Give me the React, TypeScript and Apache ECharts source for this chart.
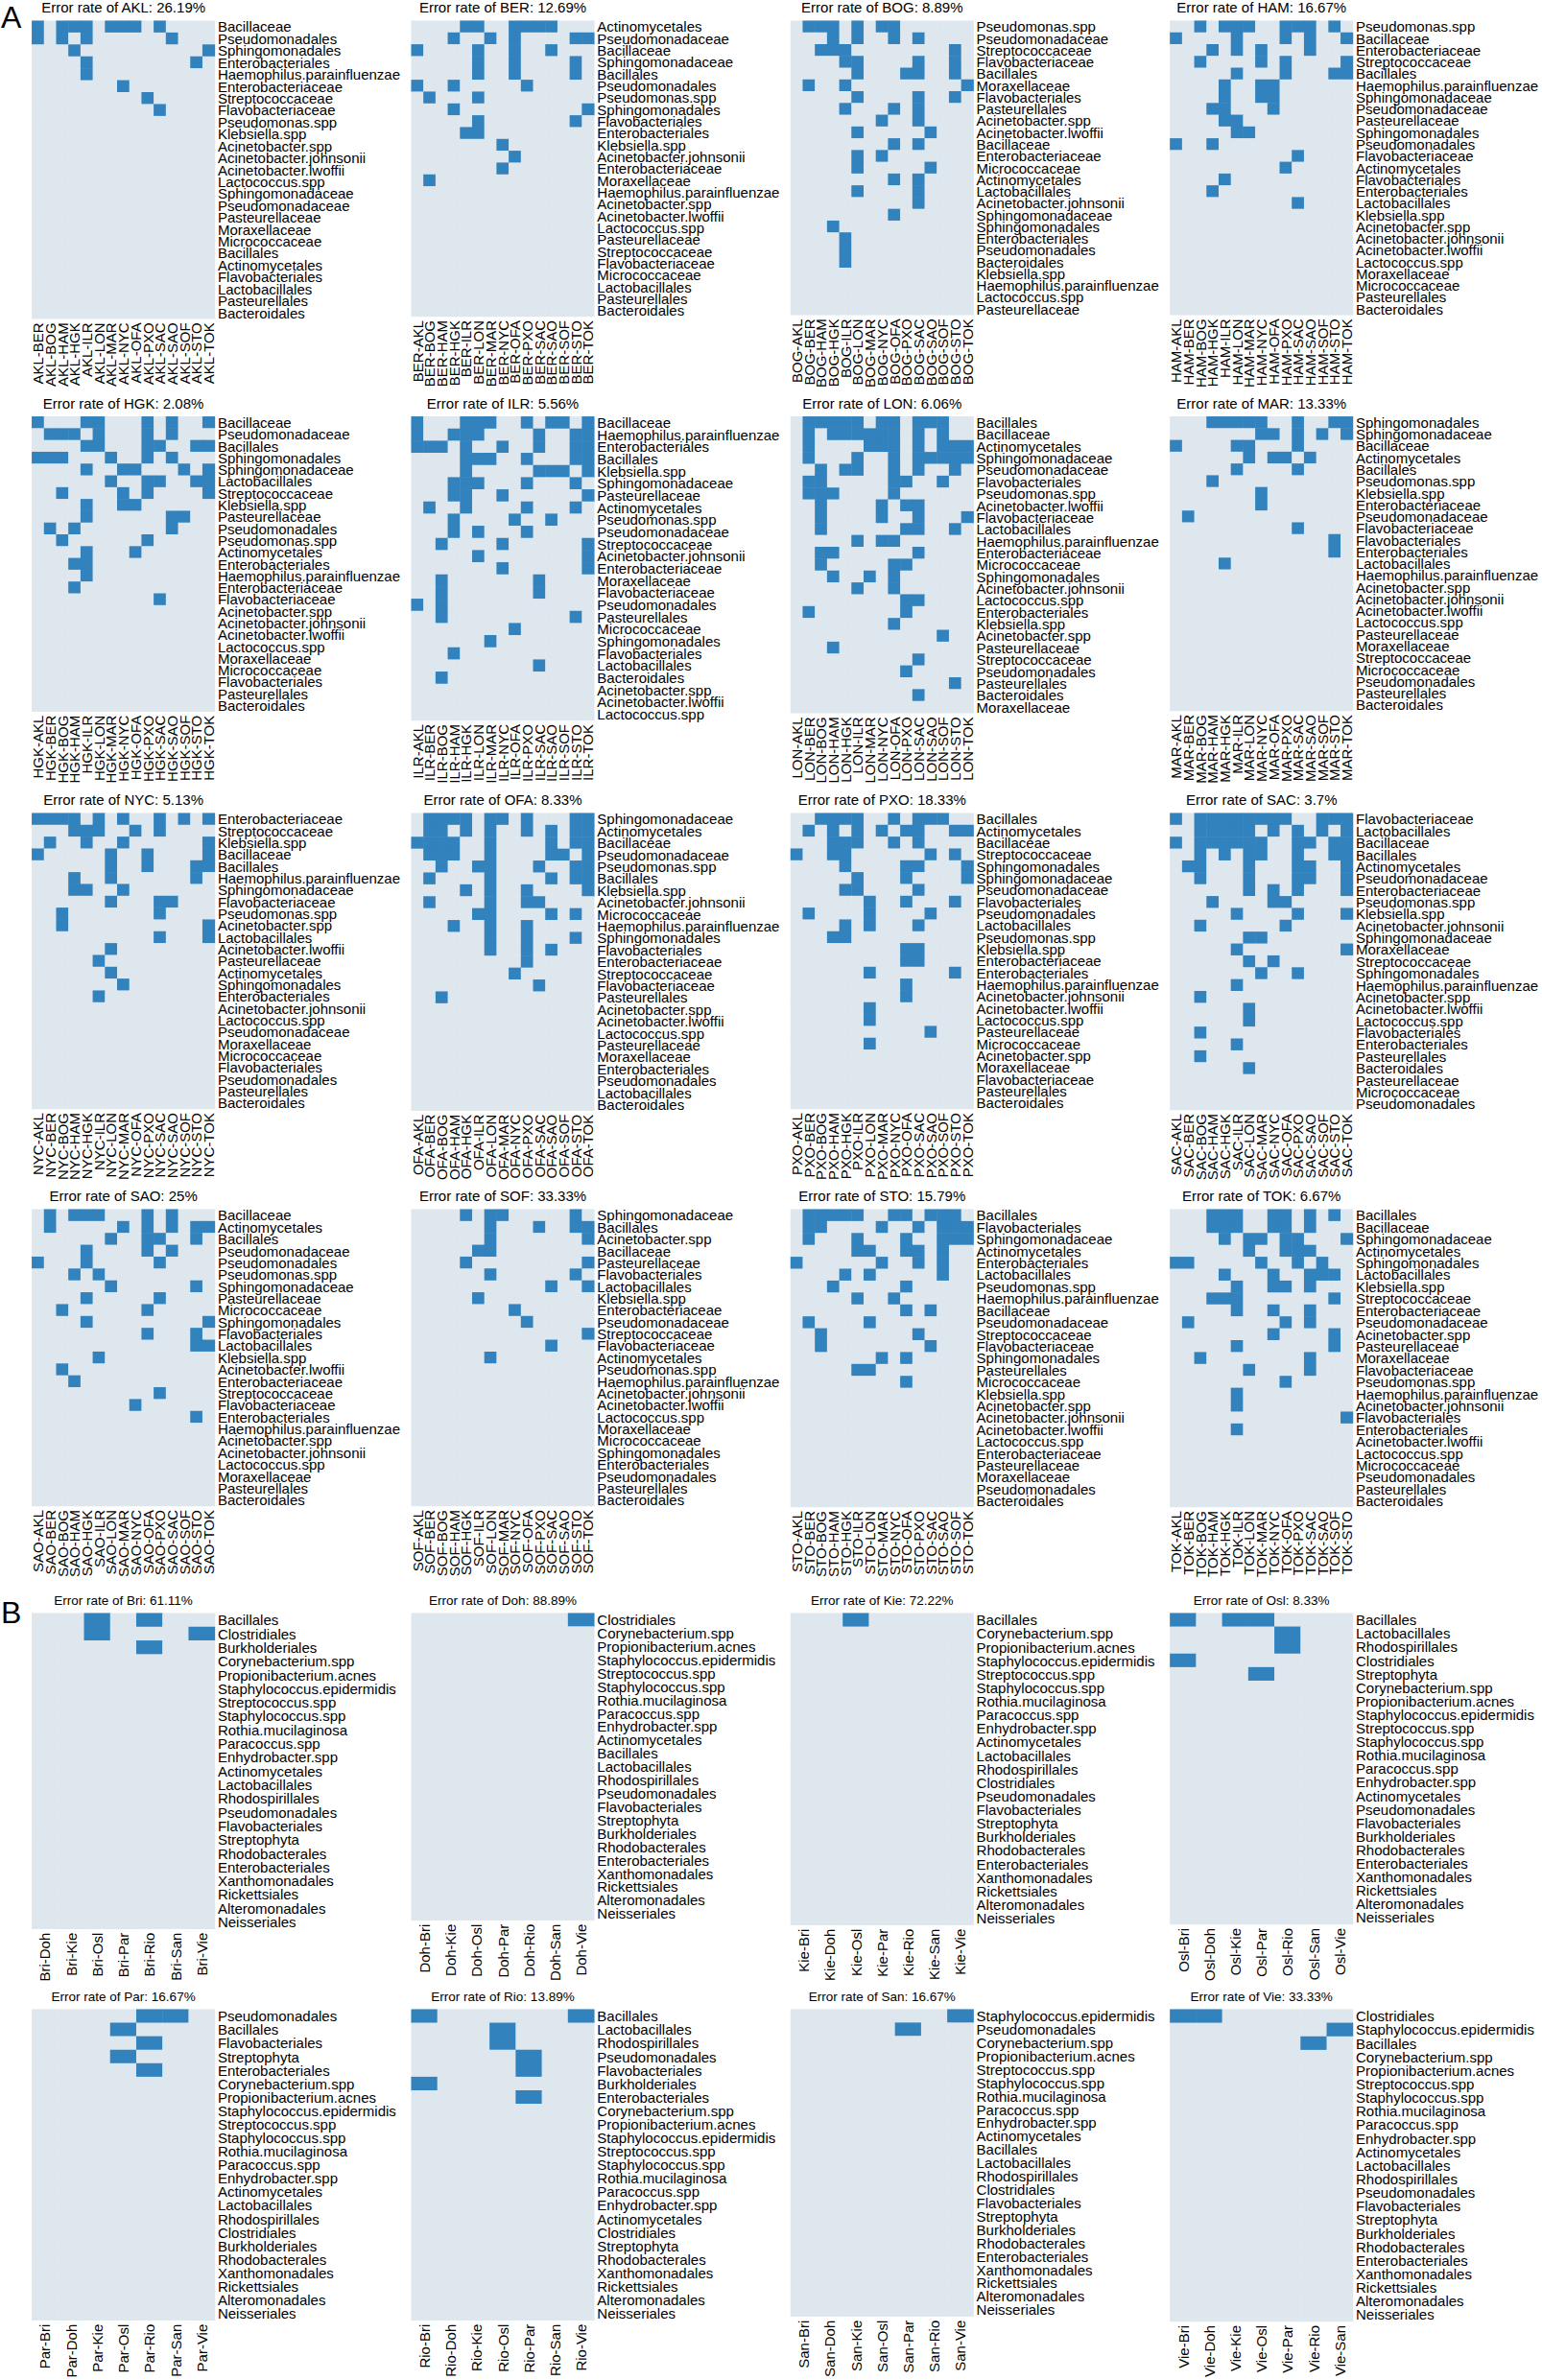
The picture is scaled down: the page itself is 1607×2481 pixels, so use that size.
import React, { useEffect, useRef } from "react";
import * as echarts from "echarts";

// ---------------- data ----------------
const citiesA = ["AKL", "BER", "BOG", "HAM", "HGK", "ILR", "LON", "MAR", "NYC", "OFA", "PXO", "SAC", "SAO", "SOF", "STO", "TOK"];
const ratesA = ["26.19%", "12.69%", "8.89%", "16.67%", "2.08%", "5.56%", "6.06%", "13.33%", "5.13%", "8.33%", "18.33%", "3.7%", "25%", "33.33%", "15.79%", "6.67%"];
const citiesB = ["Bri", "Doh", "Kie", "Osl", "Par", "Rio", "San", "Vie"];
const ratesB = ["61.11%", "88.89%", "72.22%", "8.33%", "16.67%", "13.89%", "16.67%", "33.33%"];

const rowsAKL = ["Bacillaceae", "Pseudomonadales", "Sphingomonadales", "Enterobacteriales", "Haemophilus.parainfluenzae", "Enterobacteriaceae", "Streptococcaceae", "Flavobacteriaceae", "Pseudomonas.spp", "Klebsiella.spp", "Acinetobacter.spp", "Acinetobacter.johnsonii", "Acinetobacter.lwoffii", "Lactococcus.spp", "Sphingomonadaceae", "Pseudomonadaceae", "Pasteurellaceae", "Moraxellaceae", "Micrococcaceae", "Bacillales", "Actinomycetales", "Flavobacteriales", "Lactobacillales", "Pasteurellales", "Bacteroidales"];
const hitsAKL = [[0, 2, 3, 4, 6, 7, 8, 10], [0, 2, 4, 11], [3, 14], [4, 13], [4], [7], [9], [10]];

const rowsBER = ["Actinomycetales", "Pseudomonadaceae", "Bacillaceae", "Sphingomonadaceae", "Bacillales", "Pseudomonadales", "Pseudomonas.spp", "Sphingomonadales", "Flavobacteriales", "Enterobacteriales", "Klebsiella.spp", "Acinetobacter.johnsonii", "Enterobacteriaceae", "Moraxellaceae", "Haemophilus.parainfluenzae", "Acinetobacter.spp", "Acinetobacter.lwoffii", "Lactococcus.spp", "Pasteurellaceae", "Streptococcaceae", "Flavobacteriaceae", "Micrococcaceae", "Lactobacillales", "Pasteurellales", "Bacteroidales"];
const hitsBER = [[4, 5, 8, 9, 10, 11], [3, 6, 8, 13, 14], [0, 5, 8, 11], [5, 8, 13], [5, 8, 13], [0, 3, 9], [1, 5], [3, 14], [5, 13], [4, 5], [7], [8], [7], [1]];

const rowsBOG = ["Pseudomonas.spp", "Pseudomonadaceae", "Streptococcaceae", "Flavobacteriaceae", "Bacillales", "Moraxellaceae", "Flavobacteriales", "Pasteurellales", "Acinetobacter.spp", "Acinetobacter.lwoffii", "Bacillaceae", "Enterobacteriaceae", "Micrococcaceae", "Actinomycetales", "Lactobacillales", "Acinetobacter.johnsonii", "Sphingomonadaceae", "Sphingomonadales", "Enterobacteriales", "Pseudomonadales", "Bacteroidales", "Klebsiella.spp", "Haemophilus.parainfluenzae", "Lactococcus.spp", "Pasteurellaceae"];
const hitsBOG = [[1, 2, 3, 5, 7, 8], [3, 5, 8, 10], [2, 3, 4, 13], [4, 5, 10, 13], [5, 9, 10, 13], [1, 4, 14], [5, 10, 13], [4, 8, 10], [7, 10], [5, 11], [8, 10], [5, 7], [5, 11], [8, 10], [5, 10], [10], [8], [3], [4], [4], [4]];

const rowsHAM = ["Pseudomonas.spp", "Bacillaceae", "Enterobacteriaceae", "Streptococcaceae", "Bacillales", "Haemophilus.parainfluenzae", "Sphingomonadaceae", "Pseudomonadaceae", "Pasteurellaceae", "Sphingomonadales", "Pseudomonadales", "Flavobacteriaceae", "Actinomycetales", "Flavobacteriales", "Enterobacteriales", "Lactobacillales", "Klebsiella.spp", "Acinetobacter.spp", "Acinetobacter.johnsonii", "Acinetobacter.lwoffii", "Lactococcus.spp", "Moraxellaceae", "Micrococcaceae", "Pasteurellales", "Bacteroidales"];
const hitsHAM = [[2, 4, 5, 6, 9, 10, 11, 13], [0, 5, 9, 11, 14], [3, 5, 7, 11], [2, 7, 9, 14], [5, 9, 13, 14], [4, 7, 8], [4, 7, 8], [3, 4, 8], [4, 5], [5, 6], [0, 3], [10], [9], [4], [3], [10]];

const rowsHGK = ["Bacillaceae", "Pseudomonadaceae", "Bacillales", "Sphingomonadales", "Sphingomonadaceae", "Lactobacillales", "Streptococcaceae", "Klebsiella.spp", "Pasteurellaceae", "Pseudomonadales", "Pseudomonas.spp", "Actinomycetales", "Enterobacteriales", "Haemophilus.parainfluenzae", "Enterobacteriaceae", "Flavobacteriaceae", "Acinetobacter.spp", "Acinetobacter.johnsonii", "Acinetobacter.lwoffii", "Lactococcus.spp", "Moraxellaceae", "Micrococcaceae", "Flavobacteriales", "Pasteurellales", "Bacteroidales"];
const hitsHGK = [[0, 4, 5, 9, 11, 14], [1, 2, 3, 5, 9, 11], [4, 5, 9, 10, 13, 14], [0, 1, 2, 6, 9, 11], [4, 7, 8, 12, 14], [6, 9, 10, 13, 14], [2, 7, 9, 14], [4, 7, 8], [4, 11, 12], [1, 3, 11], [2, 9], [4, 8], [3, 4], [4], [3], [10]];

const rowsILR = ["Bacillaceae", "Haemophilus.parainfluenzae", "Enterobacteriales", "Bacillales", "Klebsiella.spp", "Sphingomonadaceae", "Pasteurellaceae", "Actinomycetales", "Pseudomonas.spp", "Pseudomonadaceae", "Streptococcaceae", "Acinetobacter.johnsonii", "Enterobacteriaceae", "Moraxellaceae", "Flavobacteriaceae", "Pseudomonadales", "Pasteurellales", "Micrococcaceae", "Sphingomonadales", "Flavobacteriales", "Lactobacillales", "Bacteroidales", "Acinetobacter.spp", "Acinetobacter.lwoffii", "Lactococcus.spp"];
const hitsILR = [[0, 4, 5, 6, 9, 11, 12, 14], [0, 3, 4, 5, 10, 13, 14], [0, 1, 2, 4, 7, 10, 13, 14], [4, 5, 6, 9, 13, 14], [4, 10, 11, 12, 14], [3, 4, 5, 9, 13], [3, 4, 7, 14], [1, 4, 9, 13], [3, 8, 11], [3, 5, 9], [2, 7, 14], [5, 14], [7, 14], [2, 10], [2, 10], [0, 2], [2, 13], [8], [6], [3], [10], [2]];

const rowsLON = ["Bacillales", "Bacillaceae", "Actinomycetales", "Sphingomonadaceae", "Pseudomonadaceae", "Flavobacteriales", "Pseudomonas.spp", "Acinetobacter.lwoffii", "Flavobacteriaceae", "Lactobacillales", "Haemophilus.parainfluenzae", "Enterobacteriaceae", "Micrococcaceae", "Sphingomonadales", "Acinetobacter.johnsonii", "Lactococcus.spp", "Enterobacteriales", "Klebsiella.spp", "Acinetobacter.spp", "Pasteurellaceae", "Streptococcaceae", "Pseudomonadales", "Pasteurellales", "Bacteroidales", "Moraxellaceae"];
const hitsLON = [[1, 2, 3, 4, 5, 7, 8, 10, 11, 12], [1, 3, 4, 5, 6, 7, 8, 10, 12], [1, 6, 7, 8, 10, 12, 13, 14], [1, 5, 8, 10, 11, 12, 13, 14], [2, 4, 5, 8, 10, 13], [1, 2, 8, 9, 12], [1, 2, 3, 8], [2, 7, 9, 10], [2, 7, 10, 14], [2, 9, 10, 13], [5, 7, 8], [2, 3, 10], [2, 8, 9], [3, 6, 8], [5, 8], [9, 10], [1, 9], [8], [12], [3], [10], [9], [13], [10]];

const rowsMAR = ["Sphingomonadales", "Sphingomonadaceae", "Bacillaceae", "Actinomycetales", "Bacillales", "Pseudomonas.spp", "Klebsiella.spp", "Enterobacteriaceae", "Pseudomonadaceae", "Flavobacteriaceae", "Flavobacteriales", "Enterobacteriales", "Lactobacillales", "Haemophilus.parainfluenzae", "Acinetobacter.spp", "Acinetobacter.johnsonii", "Acinetobacter.lwoffii", "Lactococcus.spp", "Pasteurellaceae", "Moraxellaceae", "Streptococcaceae", "Micrococcaceae", "Pseudomonadales", "Pasteurellales", "Bacteroidales"];
const hitsMAR = [[3, 4, 5, 6, 7, 10, 13, 14], [7, 8, 10, 12, 14], [0, 5, 6, 10], [6, 8, 9, 11], [5, 10], [3], [7], [7], [1], [10], [13], [13], [4]];

const rowsNYC = ["Enterobacteriaceae", "Streptococcaceae", "Klebsiella.spp", "Bacillaceae", "Bacillales", "Haemophilus.parainfluenzae", "Sphingomonadaceae", "Flavobacteriaceae", "Pseudomonas.spp", "Acinetobacter.spp", "Lactobacillales", "Acinetobacter.lwoffii", "Pasteurellaceae", "Actinomycetales", "Sphingomonadales", "Enterobacteriales", "Acinetobacter.johnsonii", "Lactococcus.spp", "Pseudomonadaceae", "Moraxellaceae", "Micrococcaceae", "Flavobacteriales", "Pseudomonadales", "Pasteurellales", "Bacteroidales"];
const hitsNYC = [[0, 1, 2, 3, 5, 7, 10, 12, 14], [3, 4, 5, 8, 10], [1, 4, 7, 14], [0, 6, 9, 14], [6, 9, 13, 14], [3, 6, 13], [3, 4, 7], [6, 10, 11], [2, 10], [2, 14], [10, 14], [6], [5], [6], [7], [5]];

const rowsOFA = ["Sphingomonadaceae", "Actinomycetales", "Bacillaceae", "Pseudomonadaceae", "Pseudomonas.spp", "Bacillales", "Klebsiella.spp", "Acinetobacter.johnsonii", "Micrococcaceae", "Haemophilus.parainfluenzae", "Sphingomonadales", "Flavobacteriales", "Enterobacteriaceae", "Streptococcaceae", "Flavobacteriaceae", "Pasteurellales", "Acinetobacter.spp", "Acinetobacter.lwoffii", "Lactococcus.spp", "Pasteurellaceae", "Moraxellaceae", "Enterobacteriales", "Pseudomonadales", "Lactobacillales", "Bacteroidales"];
const hitsOFA = [[1, 2, 3, 4, 6, 7, 9, 13, 14], [1, 2, 4, 6, 9, 11, 13, 14], [0, 1, 2, 3, 6, 11, 13, 14], [1, 2, 3, 6, 11, 12, 14], [2, 5, 6, 10, 13, 14], [1, 6, 11, 13, 14], [4, 6, 9, 14], [1, 6, 9, 10], [5, 6, 11, 13], [3, 6, 9], [6, 9, 13], [6, 9, 11], [9], [8], [10], [2]];

const rowsPXO = ["Bacillales", "Actinomycetales", "Bacillaceae", "Streptococcaceae", "Sphingomonadales", "Sphingomonadaceae", "Pseudomonadaceae", "Flavobacteriales", "Pseudomonadales", "Lactobacillales", "Pseudomonas.spp", "Klebsiella.spp", "Enterobacteriaceae", "Enterobacteriales", "Haemophilus.parainfluenzae", "Acinetobacter.johnsonii", "Acinetobacter.lwoffii", "Lactococcus.spp", "Pasteurellaceae", "Micrococcaceae", "Acinetobacter.spp", "Moraxellaceae", "Flavobacteriaceae", "Pasteurellales", "Bacteroidales"];
const hitsPXO = [[2, 3, 4, 5, 8, 10, 11, 12], [1, 3, 5, 7, 9, 10, 13, 14], [3, 4, 5, 8, 10], [0, 3, 4, 11, 13], [4, 9, 10, 14], [5, 9, 14], [4, 5, 10], [6, 9, 13], [1, 6, 11], [4, 6, 10], [3, 4], [9, 10], [9, 10], [6, 13], [9], [9], [6], [6], [11], [6]];

const rowsSAC = ["Flavobacteriaceae", "Lactobacillales", "Bacillaceae", "Bacillales", "Actinomycetales", "Pseudomonadaceae", "Enterobacteriaceae", "Pseudomonas.spp", "Klebsiella.spp", "Acinetobacter.johnsonii", "Sphingomonadaceae", "Moraxellaceae", "Streptococcaceae", "Sphingomonadales", "Haemophilus.parainfluenzae", "Acinetobacter.spp", "Acinetobacter.lwoffii", "Lactococcus.spp", "Flavobacteriales", "Enterobacteriales", "Pasteurellales", "Bacteroidales", "Pasteurellaceae", "Micrococcaceae", "Pseudomonadales"];
const hitsSAC = [[0, 2, 3, 4, 5, 6, 7, 8, 9, 12, 13, 14], [2, 3, 4, 5, 6, 8, 10, 12, 14], [0, 2, 3, 4, 5, 6, 7, 10, 11, 13, 14], [2, 4, 6, 7, 10, 13, 14], [1, 2, 6, 10, 11, 14], [2, 6, 10, 11, 14], [6, 8, 10, 14], [3, 8, 9], [5, 10, 14], [2, 9], [6, 7], [5, 14], [6, 8], [7, 10], [5], [2], [6], [6], [2], [5], [2], [6]];

const rowsSAO = ["Bacillaceae", "Actinomycetales", "Bacillales", "Pseudomonadaceae", "Pseudomonadales", "Pseudomonas.spp", "Sphingomonadaceae", "Pasteurellaceae", "Micrococcaceae", "Sphingomonadales", "Flavobacteriales", "Lactobacillales", "Klebsiella.spp", "Acinetobacter.lwoffii", "Enterobacteriaceae", "Streptococcaceae", "Flavobacteriaceae", "Enterobacteriales", "Haemophilus.parainfluenzae", "Acinetobacter.spp", "Acinetobacter.johnsonii", "Lactococcus.spp", "Moraxellaceae", "Pasteurellales", "Bacteroidales"];
const hitsSAO = [[1, 3, 4, 5, 9, 11], [1, 7, 9, 11, 13, 14], [6, 9, 10, 13], [4, 9, 11], [0, 4, 10], [3, 5], [6, 13], [4, 10], [2, 9], [4, 14], [9, 13], [13, 14], [5], [2], [3], [10], [8], [13]];

const rowsSOF = ["Sphingomonadaceae", "Bacillales", "Acinetobacter.spp", "Bacillaceae", "Pasteurellaceae", "Flavobacteriales", "Lactobacillales", "Klebsiella.spp", "Enterobacteriaceae", "Pseudomonadaceae", "Streptococcaceae", "Flavobacteriaceae", "Actinomycetales", "Pseudomonas.spp", "Haemophilus.parainfluenzae", "Acinetobacter.johnsonii", "Acinetobacter.lwoffii", "Lactococcus.spp", "Moraxellaceae", "Micrococcaceae", "Sphingomonadales", "Enterobacteriales", "Pseudomonadales", "Pasteurellales", "Bacteroidales"];
const hitsSOF = [[4, 6, 7, 13], [6, 10, 13, 14], [6, 14], [5, 6], [4, 14], [6, 13], [11, 14], [5], [8], [9], [14], [11], [6]];

const rowsSTO = ["Bacillales", "Flavobacteriales", "Sphingomonadaceae", "Actinomycetales", "Enterobacteriales", "Lactobacillales", "Pseudomonas.spp", "Haemophilus.parainfluenzae", "Bacillaceae", "Pseudomonadaceae", "Streptococcaceae", "Flavobacteriaceae", "Sphingomonadales", "Pasteurellales", "Micrococcaceae", "Klebsiella.spp", "Acinetobacter.spp", "Acinetobacter.johnsonii", "Acinetobacter.lwoffii", "Lactococcus.spp", "Enterobacteriaceae", "Pasteurellaceae", "Moraxellaceae", "Pseudomonadales", "Bacteroidales"];
const hitsSTO = [[1, 2, 3, 4, 5, 8, 9, 11, 12, 13], [1, 2, 7, 10, 12, 13, 14], [1, 5, 9, 12, 13, 14], [5, 6, 9, 10, 12], [0, 7, 10, 12], [4, 6, 12], [3, 9], [5, 8], [9, 11], [1, 6], [2, 10], [2, 11], [7, 9], [5, 6], [9]];

const rowsTOK = ["Bacillales", "Bacillaceae", "Sphingomonadaceae", "Actinomycetales", "Sphingomonadales", "Lactobacillales", "Klebsiella.spp", "Streptococcaceae", "Enterobacteriaceae", "Pseudomonadaceae", "Acinetobacter.spp", "Pasteurellaceae", "Moraxellaceae", "Flavobacteriaceae", "Pseudomonas.spp", "Haemophilus.parainfluenzae", "Acinetobacter.johnsonii", "Flavobacteriales", "Enterobacteriales", "Acinetobacter.lwoffii", "Lactococcus.spp", "Micrococcaceae", "Pseudomonadales", "Pasteurellales", "Bacteroidales"];
const hitsTOK = [[3, 4, 5, 8, 9, 11, 13], [3, 4, 5, 8, 9, 11], [4, 6, 7, 9, 10, 14], [6, 9, 10, 11], [0, 1, 7, 10, 12], [4, 8, 11, 12, 13], [5, 8, 9, 11], [3, 4, 5, 13], [5, 8, 11], [1, 9, 11], [8, 13], [5, 13], [2, 11], [6, 11], [9], [5], [5], [14], [5]];

const rowsBri = ["Bacillales", "Clostridiales", "Burkholderiales", "Corynebacterium.spp", "Propionibacterium.acnes", "Staphylococcus.epidermidis", "Streptococcus.spp", "Staphylococcus.spp", "Rothia.mucilaginosa", "Paracoccus.spp", "Enhydrobacter.spp", "Actinomycetales", "Lactobacillales", "Rhodospirillales", "Pseudomonadales", "Flavobacteriales", "Streptophyta", "Rhodobacterales", "Enterobacteriales", "Xanthomonadales", "Rickettsiales", "Alteromonadales", "Neisseriales"];
const hitsBri = [[2, 4], [2, 6], [4]];

const rowsDoh = ["Clostridiales", "Corynebacterium.spp", "Propionibacterium.acnes", "Staphylococcus.epidermidis", "Streptococcus.spp", "Staphylococcus.spp", "Rothia.mucilaginosa", "Paracoccus.spp", "Enhydrobacter.spp", "Actinomycetales", "Bacillales", "Lactobacillales", "Rhodospirillales", "Pseudomonadales", "Flavobacteriales", "Streptophyta", "Burkholderiales", "Rhodobacterales", "Enterobacteriales", "Xanthomonadales", "Rickettsiales", "Alteromonadales", "Neisseriales"];
const hitsDoh = [[6]];

const rowsKie = ["Bacillales", "Corynebacterium.spp", "Propionibacterium.acnes", "Staphylococcus.epidermidis", "Streptococcus.spp", "Staphylococcus.spp", "Rothia.mucilaginosa", "Paracoccus.spp", "Enhydrobacter.spp", "Actinomycetales", "Lactobacillales", "Rhodospirillales", "Clostridiales", "Pseudomonadales", "Flavobacteriales", "Streptophyta", "Burkholderiales", "Rhodobacterales", "Enterobacteriales", "Xanthomonadales", "Rickettsiales", "Alteromonadales", "Neisseriales"];
const hitsKie = [[2]];

const rowsOsl = ["Bacillales", "Lactobacillales", "Rhodospirillales", "Clostridiales", "Streptophyta", "Corynebacterium.spp", "Propionibacterium.acnes", "Staphylococcus.epidermidis", "Streptococcus.spp", "Staphylococcus.spp", "Rothia.mucilaginosa", "Paracoccus.spp", "Enhydrobacter.spp", "Actinomycetales", "Pseudomonadales", "Flavobacteriales", "Burkholderiales", "Rhodobacterales", "Enterobacteriales", "Xanthomonadales", "Rickettsiales", "Alteromonadales", "Neisseriales"];
const hitsOsl = [[0, 2, 3], [4], [4], [0], [3]];

const rowsPar = ["Pseudomonadales", "Bacillales", "Flavobacteriales", "Streptophyta", "Enterobacteriales", "Corynebacterium.spp", "Propionibacterium.acnes", "Staphylococcus.epidermidis", "Streptococcus.spp", "Staphylococcus.spp", "Rothia.mucilaginosa", "Paracoccus.spp", "Enhydrobacter.spp", "Actinomycetales", "Lactobacillales", "Rhodospirillales", "Clostridiales", "Burkholderiales", "Rhodobacterales", "Xanthomonadales", "Rickettsiales", "Alteromonadales", "Neisseriales"];
const hitsPar = [[4, 5], [3], [4], [3], [4]];

const rowsRio = ["Bacillales", "Lactobacillales", "Rhodospirillales", "Pseudomonadales", "Flavobacteriales", "Burkholderiales", "Enterobacteriales", "Corynebacterium.spp", "Propionibacterium.acnes", "Staphylococcus.epidermidis", "Streptococcus.spp", "Staphylococcus.spp", "Rothia.mucilaginosa", "Paracoccus.spp", "Enhydrobacter.spp", "Actinomycetales", "Clostridiales", "Streptophyta", "Rhodobacterales", "Xanthomonadales", "Rickettsiales", "Alteromonadales", "Neisseriales"];
const hitsRio = [[0, 6], [3], [3], [4], [4], [0], [4]];

const rowsSan = ["Staphylococcus.epidermidis", "Pseudomonadales", "Corynebacterium.spp", "Propionibacterium.acnes", "Streptococcus.spp", "Staphylococcus.spp", "Rothia.mucilaginosa", "Paracoccus.spp", "Enhydrobacter.spp", "Actinomycetales", "Bacillales", "Lactobacillales", "Rhodospirillales", "Clostridiales", "Flavobacteriales", "Streptophyta", "Burkholderiales", "Rhodobacterales", "Enterobacteriales", "Xanthomonadales", "Rickettsiales", "Alteromonadales", "Neisseriales"];
const hitsSan = [[6], [4]];

const rowsVie = ["Clostridiales", "Staphylococcus.epidermidis", "Bacillales", "Corynebacterium.spp", "Propionibacterium.acnes", "Streptococcus.spp", "Staphylococcus.spp", "Rothia.mucilaginosa", "Paracoccus.spp", "Enhydrobacter.spp", "Actinomycetales", "Lactobacillales", "Rhodospirillales", "Pseudomonadales", "Flavobacteriales", "Streptophyta", "Burkholderiales", "Rhodobacterales", "Enterobacteriales", "Xanthomonadales", "Rickettsiales", "Alteromonadales", "Neisseriales"];
const hitsVie = [[0, 1], [6], [5]];

const rowsA = [rowsAKL, rowsBER, rowsBOG, rowsHAM, rowsHGK, rowsILR, rowsLON, rowsMAR, rowsNYC, rowsOFA, rowsPXO, rowsSAC, rowsSAO, rowsSOF, rowsSTO, rowsTOK];
const hitsA = [hitsAKL, hitsBER, hitsBOG, hitsHAM, hitsHGK, hitsILR, hitsLON, hitsMAR, hitsNYC, hitsOFA, hitsPXO, hitsSAC, hitsSAO, hitsSOF, hitsSTO, hitsTOK];
const rowsB = [rowsBri, rowsDoh, rowsKie, rowsOsl, rowsPar, rowsRio, rowsSan, rowsVie];
const hitsB = [hitsBri, hitsDoh, hitsKie, hitsOsl, hitsPar, hitsRio, hitsSan, hitsVie];

// ---------------- layout ----------------
const FONT = "'Liberation Sans', Arial, Helvetica, sans-serif";
const LIGHT = "#dfe7ee";
const BLUE = "#3182bd";
const colLeft = [33.3, 428.7, 824.0, 1219.4];
const plotW = 190.6;
const topA = [21.7, 434.3, 847.7, 1260.7];
const titleYA = [8.3, 421, 834.3, 1247.3];
const bottomA = [[332.3, 330, 328.3, 328.3], [741.7, 751, 743.3, 741], [1156, 1157.7, 1156, 1157], [1570, 1570, 1571, 1571]];
const topB = [1681.7, 2094.7];
const titleYB = [1669.3, 2082];
const bottomB = [[2010.7, 2001.7, 2006.7, 2006], [2418.7, 2418.7, 2414.7, 2420]];

function buildOption() {
  const grid: any[] = [];
  const xAxis: any[] = [];
  const yAxis: any[] = [];
  const series: any[] = [];
  const title: any[] = [];

  const addPanel = (city: string, rate: string, others: string[], rows: string[], hits: number[][], left: number, top: number, bottom: number, titleY: number, titleSize: number) => {
    const i = grid.length;
    grid.push({ left, top, width: plotW, height: bottom - top, containLabel: false, outerBoundsMode: "none" });
    xAxis.push({
      type: "category", gridIndex: i, data: others.map((o) => `${city}-${o}`), position: "bottom",
      axisLine: { show: false }, axisTick: { show: false }, splitLine: { show: false },
      axisLabel: { interval: 0, rotate: 90, fontSize: 15, fontFamily: FONT, color: "#000", margin: 4 },
    });
    yAxis.push({
      type: "category", gridIndex: i, data: rows, inverse: true, position: "right",
      axisLine: { show: false }, axisTick: { show: false }, splitLine: { show: false },
      axisLabel: { interval: 0, fontSize: 15, fontFamily: FONT, color: "#000", margin: 3 },
    });
    const data: number[][] = [];
    rows.forEach((_, r) => {
      others.forEach((_o, c) => {
        const on = hits[r] && hits[r].indexOf(c) >= 0 ? 1 : 0;
        data.push([c, r, on]);
      });
    });
    series.push({ type: "heatmap", xAxisIndex: i, yAxisIndex: i, data, itemStyle: { borderWidth: 0 }, emphasis: { disabled: true }, progressive: 0 });
    title.push({
      text: `Error rate of ${city}: ${rate}`, left: left + plotW / 2, top: titleY - titleSize / 2 - 1, textAlign: "center", padding: 0,
      textStyle: { fontSize: titleSize, fontWeight: "normal", color: "#000", fontFamily: FONT },
    });
  };

  citiesA.forEach((city, k) => {
    const r = Math.floor(k / 4), c = k % 4;
    addPanel(city, ratesA[k], citiesA.filter((o) => o !== city), rowsA[k], hitsA[k], colLeft[c], topA[r], bottomA[r][c], titleYA[r], 15);
  });
  citiesB.forEach((city, k) => {
    const r = Math.floor(k / 4), c = k % 4;
    addPanel(city, ratesB[k], citiesB.filter((o) => o !== city), rowsB[k], hitsB[k], colLeft[c], topB[r], bottomB[r][c], titleYB[r], 13.5);
  });

  title.push({ text: "A", left: 1, top: 2, padding: 0, textStyle: { fontSize: 32, fontWeight: "normal", color: "#000", fontFamily: FONT } });
  title.push({ text: "B", left: 1, top: 1665, padding: 0, textStyle: { fontSize: 32, fontWeight: "normal", color: "#000", fontFamily: FONT } });

  return {
    animation: false,
    backgroundColor: "#ffffff",
    title,
    grid,
    xAxis,
    yAxis,
    visualMap: {
      type: "piecewise", show: false, dimension: 2,
      seriesIndex: series.map((_, i) => i),
      pieces: [{ value: 0, color: LIGHT }, { value: 1, color: BLUE }],
    },
    series,
  };
}

export default function App() {
  const ref = useRef<HTMLDivElement>(null);
  useEffect(() => {
    if (!ref.current) return;
    const chart = echarts.init(ref.current, undefined, { renderer: "svg" });
    chart.setOption(buildOption() as any);
    return () => chart.dispose();
  }, []);
  return <div ref={ref} style={{ position: "absolute", left: 0, top: 0, width: 1607, height: 2481 }} />;
}
